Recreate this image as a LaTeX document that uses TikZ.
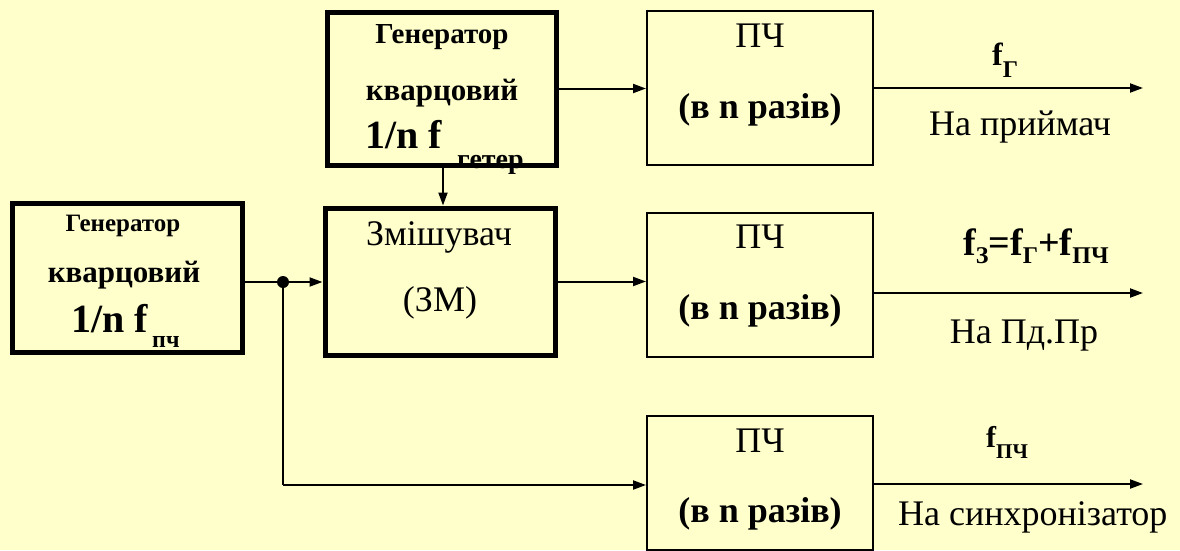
\documentclass[tikz,border=0pt]{standalone}
\usepackage{fontspec}
\setmainfont{Liberation Serif}[Script=Cyrillic,Language=Ukrainian]
\usetikzlibrary{arrows.meta}
\definecolor{bgyellow}{HTML}{FFFFCC}
\newcommand\fsz[1]{\fontsize{#1}{#1}\selectfont}
\begin{document}
\begin{tikzpicture}[x=1pt,y=-1pt,
  thickbox/.style={draw=black,line width=5pt,fill=bgyellow,inner sep=0pt},
  thinbox/.style={draw=black,line width=2pt,fill=bgyellow,inner sep=0pt},
  conn/.style={line width=2pt,-{Triangle[length=13pt,width=9pt]}},
  plainline/.style={line width=2pt},
  txt/.style={anchor=base,inner sep=0pt},
  txtw/.style={anchor=base west,inner sep=0pt}]
\fill[bgyellow] (0,0) rectangle (1180,550);
\useasboundingbox (0,0) rectangle (1180,550);

% boxes
\node[thickbox,minimum width=229pt,minimum height=153pt] (gt) at (441.5,88.5) {};
\node[thickbox,minimum width=230pt,minimum height=149pt] (gl) at (127,277.5) {};
\node[thickbox,minimum width=230pt,minimum height=147pt] (mx) at (440,281.5) {};
\node[thinbox,minimum width=226pt,minimum height=154pt] (p1) at (760,88) {};
\node[thinbox,minimum width=226pt,minimum height=144pt] (p2) at (760,285) {};
\node[thinbox,minimum width=226pt,minimum height=134pt] (p3) at (760,483) {};

% coordinates
\coordinate (j) at (283,282);
\coordinate (jb) at (283,485);
\coordinate (o1) at (1143,88);
\coordinate (o2) at (1143,293);
\coordinate (o3) at (1143,484);
\coordinate (gx) at (443,0);

% connectors
\draw[conn] (gt.east) -- (gt.east -| p1.west);
\draw[conn] (gt.south -| gx) -- (mx.north -| gx);
\draw[plainline] (gl.east |- j) -- (j);
\draw[conn] (j) -- (j -| mx.west);
\fill (j) circle (6pt);
\draw[line width=1.8pt] (j) -- (jb);
\draw[conn] (jb) -- (jb -| p3.west);
\draw[conn] (mx.east) -- (mx.east -| p2.west);
\draw[conn] (p1.east |- o1) -- (o1);
\draw[conn] (p2.east |- o2) -- (o2);
\draw[conn] (p3.east |- o3) -- (o3);

% top generator text
\node[txt] (gt1) at (442,43) {\fsz{29}\bfseries Генератор};
\node[txt] (gt2) at (442,100) {\fsz{31}\bfseries кварцовий};
\node[txtw] (gt3) at (365,148) {\fsz{40}\bfseries 1/n f};
\node[txtw] (gt4) at (457,168) {\fsz{28}\bfseries гетер};

% left generator text
\node[txt] (gl1) at (123,231) {\fsz{25}\bfseries Генератор};
\node[txt] (gl2) at (124,282) {\fsz{31}\bfseries кварцовий};
\node[txtw] (gl3) at (71,332) {\fsz{40}\bfseries 1/n f};
\node[txtw] (gl4) at (152,347) {\fsz{24}\bfseries пч};

% mixer text
\node[txt] (mx1) at (439,245) {\fsz{36}Змішувач};
\node[txt] (mx2) at (440,311) {\fsz{36}(ЗМ)};

% PCh text
\node[txt] (p1a) at (760,47) {\fsz{36}ПЧ};
\node[txt] (p1b) at (760,118) {\fsz{36}\bfseries (в n разів)};
\node[txt] (p2a) at (760,248) {\fsz{36}ПЧ};
\node[txt] (p2b) at (760,319) {\fsz{36}\bfseries (в n разів)};
\node[txt] (p3a) at (760,452) {\fsz{36}ПЧ};
\node[txt] (p3b) at (760,522) {\fsz{36}\bfseries (в n разів)};

% output labels
\node[txtw] (l1) at (992,65) {\fsz{32}\bfseries f\raisebox{-12pt}{\fsz{24}Г}};
\node[txt] (l1b) at (1020,135) {\fsz{36}На приймач};
\node[txtw] (l2) at (963,255) {\fsz{38}\bfseries f\raisebox{-8pt}{\fsz{24}З}=f\raisebox{-8pt}{\fsz{24}Г}+f\raisebox{-8pt}{\fsz{24}ПЧ}};
\node[txt] (l2b) at (1024,343) {\fsz{36}На Пд.Пр};
\node[txtw] (l3) at (986,447) {\fsz{30}\bfseries f\raisebox{-11pt}{\fsz{21}ПЧ}};
\node[txtw] (l3b) at (898,525) {\fsz{36}На синхронізатор};
\end{tikzpicture}
\end{document}
